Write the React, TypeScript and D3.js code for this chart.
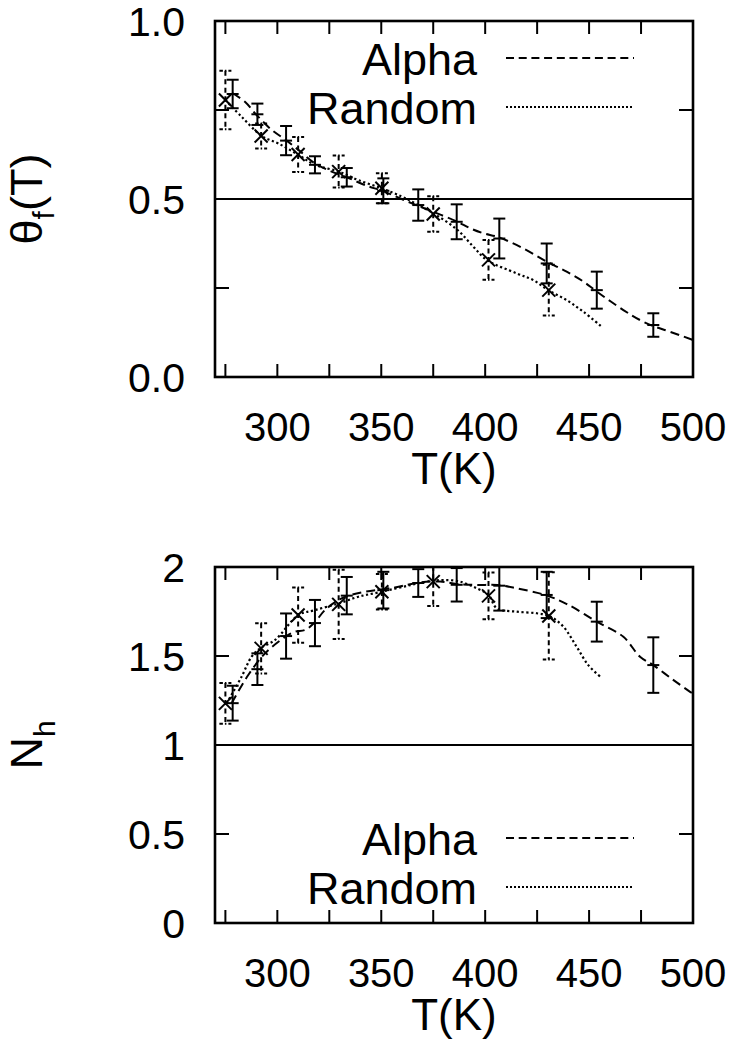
import React from "react";
import * as d3 from "d3";

// ---------- data ----------
const xTickLabels = [300, 350, 400, 450, 500];
const xMinorTicks = [275, 300, 325, 350, 375, 400, 425, 450, 475];

// Top panel: theta_f(T)
const alphaTemps = [278.5, 290.4, 304.2, 318.1, 333.4, 351, 367.8, 386.3, 406.8, 429.6, 453.7, 480.9];
const alphaTheta = [0.795, 0.738, 0.664, 0.596, 0.561, 0.523, 0.483, 0.436, 0.389, 0.319, 0.244, 0.146];
const alphaThetaErr = [0.04, 0.03, 0.041, 0.024, 0.026, 0.035, 0.044, 0.049, 0.056, 0.056, 0.052, 0.033];

const randomTemps = [275, 292.2, 310, 329.5, 350.3, 375, 401.6, 430.6];
const randomTheta = [0.778, 0.677, 0.625, 0.577, 0.53, 0.458, 0.329, 0.244];
const randomThetaErr = [0.082, 0.035, 0.049, 0.045, 0.042, 0.05, 0.056, 0.071];

const alphaThetaFitT = [278.5, 284.4, 290, 297.3, 304, 310.1, 318.1, 326.1, 333.4, 342.2, 351.8, 363, 375, 386.3, 392.7, 399, 406.8, 418.4, 429.6, 439.2, 447.3, 453.7, 466.5, 474.5, 480.9, 489, 500];
const alphaThetaFitV = [0.797, 0.773, 0.736, 0.694, 0.666, 0.638, 0.6, 0.577, 0.561, 0.539, 0.52, 0.492, 0.464, 0.437, 0.418, 0.404, 0.392, 0.361, 0.324, 0.296, 0.268, 0.24, 0.188, 0.16, 0.143, 0.127, 0.104];

const randomThetaFitT = [275, 282.8, 292.5, 300.5, 310.1, 318.1, 329.7, 339, 350.2, 359.8, 366.2, 375, 386.3, 394.3, 400.7, 415.2, 423.2, 430.4, 439.2, 447.3, 456.1];
const randomThetaFitV = [0.778, 0.731, 0.677, 0.656, 0.624, 0.596, 0.577, 0.553, 0.53, 0.507, 0.488, 0.46, 0.415, 0.366, 0.329, 0.291, 0.272, 0.244, 0.216, 0.183, 0.141];

// Bottom panel: N_h
const alphaNh = [1.235, 1.426, 1.612, 1.685, 1.839, 1.87, 1.91, 1.9, 1.895, 1.843, 1.693, 1.449];
const alphaNhErr = [0.098, 0.089, 0.127, 0.13, 0.105, 0.103, 0.078, 0.094, 0.14, 0.13, 0.112, 0.156];
const randomNh = [1.234, 1.543, 1.73, 1.79, 1.861, 1.918, 1.838, 1.725];
const randomNhErr = [0.114, 0.141, 0.155, 0.195, 0.1, 0.137, 0.131, 0.245];

const alphaNhFitT = [278, 286, 294.1, 304, 308.5, 313.3, 317.8, 322.9, 329.4, 333.8, 342.2, 356.6, 367.8, 378.3, 387.1, 396, 405.9, 415.2, 428.8, 439.3, 453.7, 466.5, 474.5, 480.9, 490, 498.6, 500];
const alphaNhFitV = [1.235, 1.393, 1.515, 1.609, 1.637, 1.646, 1.687, 1.758, 1.815, 1.837, 1.861, 1.885, 1.912, 1.918, 1.904, 1.899, 1.899, 1.88, 1.843, 1.792, 1.693, 1.608, 1.496, 1.449, 1.37, 1.299, 1.29];

const randomNhFitT = [275.6, 282.8, 287.6, 291.7, 298.9, 310.1, 318.1, 329.7, 339, 350.2, 364.3, 374.7, 380.3, 387.9, 396, 401.6, 405.6, 415.2, 424.8, 430.9, 437.6, 444, 449.6, 455.3];
const randomNhFitV = [1.234, 1.384, 1.496, 1.543, 1.59, 1.73, 1.758, 1.796, 1.833, 1.861, 1.899, 1.923, 1.927, 1.918, 1.88, 1.843, 1.768, 1.749, 1.74, 1.725, 1.665, 1.552, 1.449, 1.384];

const legendLabels = ["Alpha", "Random"];

const FONT = "'Liberation Sans', Arial, Helvetica, sans-serif";

type PanelProps = {
  id: string;
  top: number;
  bottom: number;
  yDomain: [number, number];
  yMinorTicks: number[];
  yTickVals: number[];
  yTickText: string[];
  refLine: number;
  alphaV: number[];
  alphaE: number[];
  randomV: number[];
  randomE: number[];
  alphaFitT: number[];
  alphaFitV: number[];
  randomFitT: number[];
  randomFitV: number[];
  legendY: number[];
  yTitle: React.ReactNode;
};

const LEFT = 215;
const RIGHT = 693;

function Panel(p: PanelProps) {
  const x = d3.scaleLinear().domain([270, 500]).range([LEFT, RIGHT]);
  const y = d3.scaleLinear().domain(p.yDomain).range([p.bottom, p.top]);
  const line = d3
    .line<[number, number]>()
    .x((d) => x(d[0]))
    .y((d) => y(d[1]))
    .curve(d3.curveCatmullRom.alpha(0.5));
  const alphaPath = line(p.alphaFitT.map((t, i) => [t, p.alphaFitV[i]] as [number, number])) || "";
  const randomPath = line(p.randomFitT.map((t, i) => [t, p.randomFitV[i]] as [number, number])) || "";
  const clipId = `clip-${p.id}`;
  const cap = 6;
  const tickLen = 13;
  const sw = 2;

  return (
    <g>
      <defs>
        <clipPath id={clipId}>
          <rect x={LEFT} y={p.top} width={RIGHT - LEFT} height={p.bottom - p.top} />
        </clipPath>
      </defs>
      {/* reference line */}
      <line x1={LEFT} x2={RIGHT} y1={y(p.refLine)} y2={y(p.refLine)} stroke="#000" strokeWidth={1.8} />
      <g clipPath={`url(#${clipId})`}>
        {/* fit curves */}
        <path d={alphaPath} fill="none" stroke="#000" strokeWidth={sw} strokeDasharray="9,5" />
        <path d={randomPath} fill="none" stroke="#000" strokeWidth={2.2} strokeDasharray="2.2,2.6" />
        {/* Alpha error bars (solid, + marker) */}
        {alphaTemps.map((t, i) => {
          const cx = x(t);
          const y1 = y(p.alphaV[i] + p.alphaE[i]);
          const y2 = y(p.alphaV[i] - p.alphaE[i]);
          const cy = y(p.alphaV[i]);
          return (
            <g key={`a${i}`} stroke="#000" strokeWidth={sw}>
              <line x1={cx} x2={cx} y1={y1} y2={y2} />
              <line x1={cx - cap} x2={cx + cap} y1={y1} y2={y1} />
              <line x1={cx - cap} x2={cx + cap} y1={y2} y2={y2} />
              <line x1={cx - cap} x2={cx + cap} y1={cy} y2={cy} />
            </g>
          );
        })}
        {/* Random error bars (dashed, x marker) */}
        {randomTemps.map((t, i) => {
          const cx = x(t);
          const y1 = y(p.randomV[i] + p.randomE[i]);
          const y2 = y(p.randomV[i] - p.randomE[i]);
          const cy = y(p.randomV[i]);
          const m = 6.5;
          return (
            <g key={`r${i}`} stroke="#000" strokeWidth={sw}>
              <line x1={cx} x2={cx} y1={y1} y2={y2} strokeDasharray="5,3.5" />
              <line x1={cx - cap} x2={cx + cap} y1={y1} y2={y1} strokeDasharray="3.5,2,1.5,2" />
              <line x1={cx - cap} x2={cx + cap} y1={y2} y2={y2} strokeDasharray="3.5,2,1.5,2" />
              <line x1={cx - m} x2={cx + m} y1={cy - m} y2={cy + m} />
              <line x1={cx - m} x2={cx + m} y1={cy + m} y2={cy - m} />
            </g>
          );
        })}
      </g>
      {/* ticks */}
      {xMinorTicks.map((t) => (
        <g key={`xt${t}`} stroke="#000" strokeWidth={2}>
          <line x1={x(t)} x2={x(t)} y1={p.top} y2={p.top + tickLen} />
          <line x1={x(t)} x2={x(t)} y1={p.bottom} y2={p.bottom - tickLen} />
        </g>
      ))}
      {p.yMinorTicks.map((v) => (
        <g key={`yt${v}`} stroke="#000" strokeWidth={2}>
          <line x1={LEFT} x2={LEFT + 14} y1={y(v)} y2={y(v)} />
          <line x1={RIGHT} x2={RIGHT - 14} y1={y(v)} y2={y(v)} />
        </g>
      ))}
      {/* frame */}
      <rect x={LEFT} y={p.top} width={RIGHT - LEFT} height={p.bottom - p.top} fill="none" stroke="#000" strokeWidth={2.6} />
      {/* tick labels */}
      {xTickLabels.map((t) => (
        <text key={`xl${t}`} x={x(t)} y={p.bottom + 64} textAnchor="middle" fontSize={40} fontFamily={FONT}>
          {t}
        </text>
      ))}
      {p.yTickVals.map((v, i) => (
        <text key={`yl${v}`} x={185} y={y(v)} dy="0.36em" textAnchor="end" fontSize={41} fontFamily={FONT}>
          {p.yTickText[i]}
        </text>
      ))}
      <text x={(LEFT + RIGHT) / 2} y={p.bottom + 107} textAnchor="middle" fontSize={44} fontFamily={FONT}>
        T(K)
      </text>
      {/* y title */}
      <g transform={`translate(42, ${(p.top + p.bottom) / 2}) rotate(-90)`}>{p.yTitle}</g>
      {/* legend */}
      {legendLabels.map((lab, i) => (
        <g key={lab}>
          <text x={477} y={p.legendY[i] + 17} textAnchor="end" fontSize={45} fontFamily={FONT}>
            {lab}
          </text>
          <line
            x1={506}
            x2={634}
            y1={p.legendY[i]}
            y2={p.legendY[i]}
            stroke="#000"
            strokeWidth={1.8}
            strokeDasharray={i === 0 ? "8,4.7" : "2,2"}
          />
        </g>
      ))}
    </g>
  );
}

export default function App() {
  return (
    <svg
      width={738}
      height={1047}
      viewBox="0 0 738 1047"
      style={{ position: "absolute", left: 0, top: 0, background: "#fff" }}
    >
      <rect x={0} y={0} width={738} height={1047} fill="#fff" />
      <Panel
        id="top"
        top={21}
        bottom={377}
        yDomain={[0, 1]}
        yMinorTicks={[0.25, 0.5, 0.75]}
        yTickVals={[0, 0.5, 1]}
        yTickText={["0.0", "0.5", "1.0"]}
        refLine={0.5}
        alphaV={alphaTheta}
        alphaE={alphaThetaErr}
        randomV={randomTheta}
        randomE={randomThetaErr}
        alphaFitT={alphaThetaFitT}
        alphaFitV={alphaThetaFitV}
        randomFitT={randomThetaFitT}
        randomFitV={randomThetaFitV}
        legendY={[58, 107]}
        yTitle={
          <text textAnchor="middle" fontSize={45} fontFamily={FONT}>
            θ
            <tspan fontSize={30} dy={12}>f</tspan>
            <tspan dy={-12}>(T)</tspan>
          </text>
        }
      />
      <Panel
        id="bottom"
        top={567}
        bottom={923}
        yDomain={[0, 2]}
        yMinorTicks={[0.5, 1, 1.5]}
        yTickVals={[0, 0.5, 1, 1.5, 2]}
        yTickText={["0", "0.5", "1", "1.5", "2"]}
        refLine={1}
        alphaV={alphaNh}
        alphaE={alphaNhErr}
        randomV={randomNh}
        randomE={randomNhErr}
        alphaFitT={alphaNhFitT}
        alphaFitV={alphaNhFitV}
        randomFitT={randomNhFitT}
        randomFitV={randomNhFitV}
        legendY={[838, 887]}
        yTitle={
          <text textAnchor="middle" fontSize={45} fontFamily={FONT}>
            N
            <tspan fontSize={30} dy={13}>h</tspan>
          </text>
        }
      />
    </svg>
  );
}
